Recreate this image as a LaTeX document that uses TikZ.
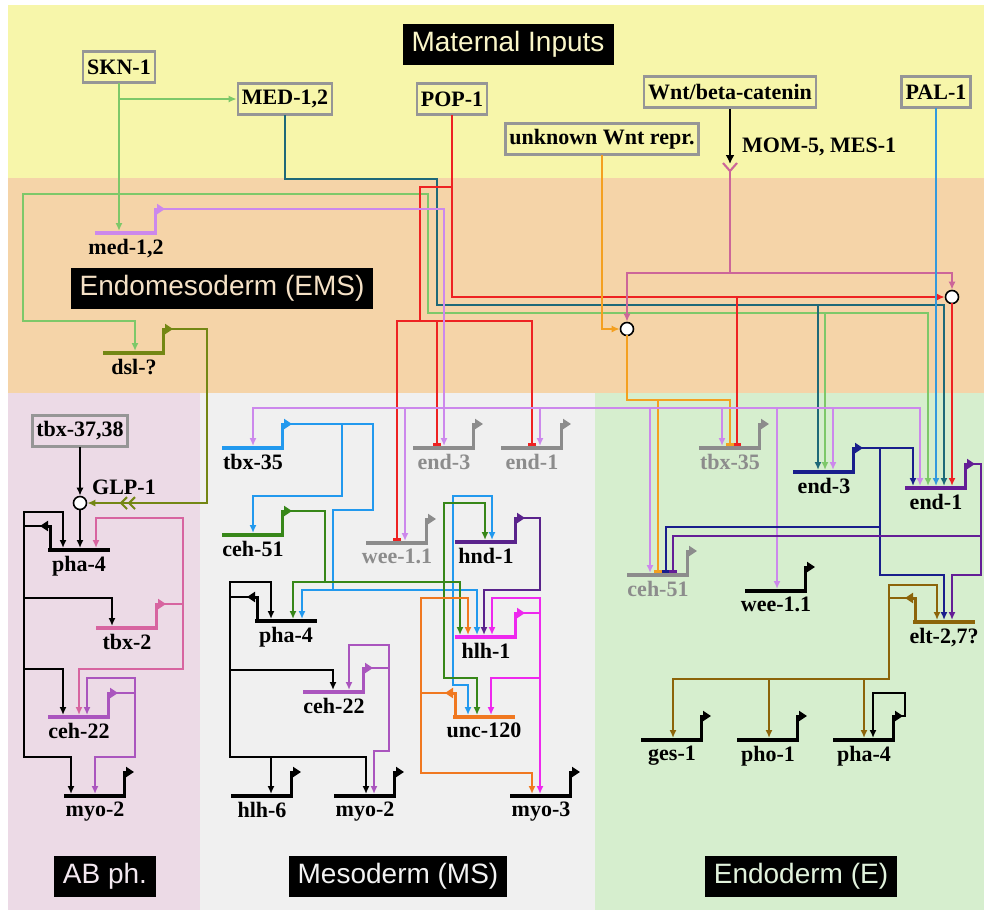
\documentclass[tikz,border=0pt]{standalone}
\usepackage{fontspec}
\setmainfont{Liberation Serif}
\newfontfamily\titlesans{Liberation Sans}
\usepackage{xcolor}
\usepackage{tikz}
\usetikzlibrary{arrows.meta,calc,shapes.geometric}

\definecolor{bgyel}{RGB}{247,246,170}
\definecolor{bgpeach}{RGB}{245,212,168}
\definecolor{bgab}{RGB}{236,218,230}
\definecolor{bgms}{RGB}{240,240,240}
\definecolor{bge}{RGB}{214,238,206}
\definecolor{boxgray}{RGB}{150,150,150}
\definecolor{sknc}{RGB}{125,200,105}
\definecolor{medc}{RGB}{30,105,120}
\definecolor{popc}{RGB}{238,34,34}
\definecolor{wntc}{RGB}{204,102,153}
\definecolor{unkc}{RGB}{244,160,32}
\definecolor{palc}{RGB}{51,153,221}
\definecolor{lilac}{RGB}{204,136,236}
\definecolor{olivec}{RGB}{115,135,20}
\definecolor{tbxtwo}{RGB}{215,100,160}
\definecolor{cehtt}{RGB}{170,85,190}
\definecolor{tbxblue}{RGB}{34,153,238}
\definecolor{cehgreen}{RGB}{55,135,25}
\definecolor{genegray}{RGB}{140,140,140}
\definecolor{hndc}{RGB}{90,35,140}
\definecolor{hlhc}{RGB}{238,40,238}
\definecolor{uncc}{RGB}{240,120,32}
\definecolor{navyc}{RGB}{25,30,140}
\definecolor{endonec}{RGB}{100,30,150}
\definecolor{eltc}{RGB}{140,100,10}
\definecolor{ttyel}{RGB}{250,246,200}
\definecolor{ttpeach}{RGB}{245,225,198}
\definecolor{ttab}{RGB}{243,232,240}
\definecolor{ttms}{RGB}{242,242,242}
\definecolor{tte}{RGB}{225,242,220}

\newcommand{\genefont}{\fontsize{22}{24}\selectfont\bfseries}
\newcommand{\titlefnt}{\titlesans\fontsize{28}{30}\selectfont}

% gene: bar, promoter arrow to the right, label below
\newcommand{\gene}[6][black]{%
  \coordinate (#2) at (#3,#4);
  \draw[genebar,#5] (#2) -- ++(62,0);
  \draw[prom,#5] ($(#2)+(60,0)$) -- ++(0,-24) -- ++(10,0) coordinate (#2-p);
  \node[glab,text=#1] (#2-l) at ($(#2)+(31,6)$) {#6};
}
% gene with promoter arrow to the left
\newcommand{\geneL}[6][black]{%
  \coordinate (#2) at (#3,#4);
  \draw[genebar,#5] (#2) -- ++(62,0);
  \draw[prom,#5] ($(#2)+(2,0)$) -- ++(0,-24) -- ++(-10,0) coordinate (#2-p);
  \node[glab,text=#1] (#2-l) at ($(#2)+(31,6)$) {#6};
}

\begin{document}
\begin{tikzpicture}[
  x=1pt,y=-1pt,
  reg/.style={line width=2.1pt,line cap=rect},
  act/.style={reg,-{Latex[length=8pt,width=7pt]},shorten >=2pt},
  rep/.style={reg,-{Bar[width=8pt]},shorten >=2.5pt},
  genebar/.style={line width=4.5pt},
  prom/.style={line width=3pt,-{Triangle[length=8pt,width=10pt]}},
  glab/.style={font=\genefont,inner sep=0pt,anchor=north},
  inbox/.style={draw=boxgray,line width=2.5pt,font=\genefont,inner xsep=4pt,inner ysep=3pt,minimum height=31pt},
  title/.style={fill=black,font=\titlefnt,inner xsep=9pt,minimum height=41pt},
  junc/.style={circle,draw=black,fill=white,line width=1.6pt,minimum size=13pt,inner sep=0pt}]
  \useasboundingbox (0,0) rectangle (984,914);
  % background bands
  \fill[white] (0,0) rectangle (984,914);
  \fill[bgyel] (8,5) rectangle (984,178);
  \fill[bgpeach] (8,178) rectangle (984,393);
  \fill[bgab] (8,393) rectangle (200,910);
  \fill[bgms] (200,393) rectangle (595,910);
  \fill[bge] (595,393) rectangle (984,910);

  % titles
  \node[title,text=ttyel] (ttmat) at (508,44) {Maternal Inputs};
  \node[title,text=ttpeach] (ttems) at (222,288) {Endomesoderm (EMS)};
  \node[title,text=ttab] (ttab) at (105,876) {AB ph.};
  \node[title,text=ttms] (ttms) at (398,876) {Mesoderm (MS)};
  \node[title,text=tte] (tte) at (801,876) {Endoderm (E)};

  % maternal inputs
  \node[inbox] (skn) at (119,67) {SKN-1};
  \node[inbox] (med) at (285,99) {MED-1,2};
  \node[inbox] (pop) at (452,99) {POP-1};
  \node[inbox] (wnt) at (730,92) {Wnt/beta-catenin};
  \node[inbox] (unk) at (602,139) {unknown Wnt repr.};
  \node[inbox] (pal) at (936,92) {PAL-1};
  \node[font=\genefont,anchor=west,inner sep=0pt] (mom) at (742,147) {MOM-5, MES-1};
  \node[inbox] (tbx3738) at (80,431) {tbx-37,38};
  \node[font=\genefont,anchor=west,inner sep=0pt] (glplab) at (92,487) {GLP-1};

  % junctions
  \node[junc] (and1) at (627,329) {};
  \node[junc] (and2) at (952,297) {};
  \node[junc] (glp) at (80,503) {};

  % genes
  \gene{med12}{95}{233}{lilac}{med-1,2}
  \gene{dsl}{103}{353}{olivec}{dsl-?}
  \geneL{pha4ab}{48}{550}{black}{pha-4}
  \gene{tbx2}{96}{628}{tbxtwo}{tbx-2}
  \gene{ceh22ab}{48}{717}{cehtt}{ceh-22}
  \gene{myo2ab}{64}{796}{black}{myo-2}
  \gene{tbx35ms}{222}{448}{tbxblue}{tbx-35}
  \gene{ceh51ms}{222}{535}{cehgreen}{ceh-51}
  \geneL{pha4ms}{255}{621}{black}{pha-4}
  \gene{ceh22ms}{303}{692}{cehtt}{ceh-22}
  \gene{hlh6}{231}{796}{black}{hlh-6}
  \gene{myo2ms}{334}{796}{black}{myo-2}
  \gene[genegray]{end3ms}{413}{448}{genegray}{end-3}
  \gene[genegray]{end1ms}{501}{448}{genegray}{end-1}
  \gene[genegray]{wee11ms}{366}{543}{genegray}{wee-1.1}
  \gene{hnd1}{455}{542}{hndc}{hnd-1}
  \gene{hlh1}{455}{637}{hlhc}{hlh-1}
  \geneL{unc120}{453}{717}{uncc}{unc-120}
  \gene{myo3}{510}{796}{black}{myo-3}
  \gene[genegray]{tbx35e}{699}{448}{genegray}{tbx-35}
  \gene[genegray]{ceh51e}{627}{575}{genegray}{ceh-51}
  \gene{end3e}{793}{472}{navyc}{end-3}
  \gene{end1e}{905}{488}{endonec}{end-1}
  \gene{wee11e}{745}{591}{black}{wee-1.1}
  \geneL{elt27}{913}{622}{eltc}{elt-2,7?}
  \gene{ges1}{641}{740}{black}{ges-1}
  \gene{pho1}{737}{740}{black}{pho-1}
  \gene{pha4e}{833}{740}{black}{pha-4}

  % SKN-1
  \draw[act,sknc] (skn.south) -- (skn.south |- med12);
  \draw[act,sknc,shorten >=0pt] (119,99) -- (med.west);
  \draw[act,sknc] (119,194) -| (23,321) -| (135,0 |- dsl);
  \draw[act,sknc] (119,194) -| (428,313) -| (928,0 |- end1e);
  \draw[act,sknc] (825,313) -- (825,0 |- end3e);
  % MED-1,2
  \draw[act,medc] (med.south) |- (437,179) |- (944,305) -- (944,0 |- end1e);
  \draw[act,medc] (818,305) -- (818,0 |- end3e);
  % POP-1
  \draw[act,popc,shorten >=0pt] (pop.south) |- (and2.west);
  \draw[reg,popc] (452,187) -| (420,321);
  \draw[rep,popc] (420,321) -| (397,0 |- wee11ms);
  \draw[rep,popc] (420,321) -| (532,0 |- end1ms);
  \draw[rep,popc] (437,321) -- (437,0 |- end3ms);
  \draw[rep,popc] (737,297) -- (737,0 |- tbx35e);
  \draw[act,popc] (and2.south) -- (and2.south |- end1e);
  % Wnt/beta-catenin
  \draw[line width=2.4pt,-{Latex[length=9pt,width=9pt]}] (wnt.south) -- (730,164);
  \coordinate (wntrec) at (730,171);
  \draw[reg,wntc,line cap=butt] (723,163) -- (wntrec) -- (737,163);
  \draw[act,wntc,shorten >=0pt] (wntrec) -- (730,273) -| (and1.north);
  \draw[act,wntc,shorten >=0pt] (730,273) -| (and2.north);
  % unknown Wnt repressor
  \draw[act,unkc,shorten >=0pt] (unk.south) |- (and1.west);
  \draw[rep,unkc] (and1.south) |- (730,400) -- (730,0 |- tbx35e);
  \draw[rep,unkc] (658,400) -- (658,0 |- ceh51e);
  % PAL-1
  \draw[act,palc] (pal.south) -- (pal.south |- end1e);

  % med-1,2
  \draw[act,lilac] (med12-p) -| (444,0 |- end3ms);
  \draw[act,lilac] (444,408) -| (253,0 |- tbx35ms);
  \draw[act,lilac] (444,408) -| (920,0 |- end1e);
  \draw[act,lilac] (405,408) -- (405,0 |- wee11ms);
  \draw[act,lilac] (540,408) -- (540,0 |- end1ms);
  \draw[act,lilac] (650,408) -- (650,0 |- ceh51e);
  \draw[act,lilac] (722,408) -- (722,0 |- tbx35e);
  \draw[act,lilac] (777,408) -- (777,0 |- wee11e);
  \draw[act,lilac] (833,408) -- (833,0 |- end3e);
  % dsl-?
  \draw[act,olivec,shorten >=0pt] (dsl-p) -| (207,503) -- (glp.east);
  \draw[reg,olivec,line cap=butt] (127,497) -- (121,503) -- (127,509);
  \draw[reg,olivec,line cap=butt] (135,497) -- (129,503) -- (135,509);

  % AB pharynx
  \draw[act,shorten >=0pt] (tbx3738.south) -- (glp.north);
  \draw[act] (glp.south) -- (glp.south |- pha4ab);
  \draw[reg] (pha4ab-p) -- (24,526);
  \draw[act] (24,512) -| (63,0 |- pha4ab);
  \draw[act] (24,512) |- (71,757) -- (71,0 |- myo2ab);
  \draw[act] (24,598) -| (112,0 |- tbx2);
  \draw[act] (24,669) -| (63,0 |- ceh22ab);
  \draw[reg,tbxtwo] (tbx2-p) -- (183,604);
  \draw[act,tbxtwo] (183,604) |- (96,518) -- (96,0 |- pha4ab);
  \draw[act,tbxtwo] (183,604) |- (79,669) -- (79,0 |- ceh22ab);
  \draw[reg,cehtt] (ceh22ab-p) -- (135,693);
  \draw[act,cehtt] (135,693) |- (87,678) -- (87,0 |- ceh22ab);
  \draw[act,cehtt] (135,693) |- (95,757) -- (95,0 |- myo2ab);

  % mesoderm
  \draw[reg,tbxblue] (tbx35ms-p) -- (373,424) |- (333,510) -- (333,590);
  \draw[act,tbxblue] (342,424) |- (253,496) -- (253,0 |- ceh51ms);
  \draw[act,tbxblue] (333,590) -| (302,0 |- pha4ms);
  \draw[act,tbxblue] (333,590) -| (477,0 |- hlh1);
  \draw[act,tbxblue] (453,590) |- (492,496) -- (492,0 |- hnd1);
  \draw[act,tbxblue] (453,590) |- (468,685) -- (468,0 |- unc120);
  \draw[reg,cehgreen] (ceh51ms-p) -| (325,582);
  \draw[act,cehgreen] (325,582) -| (293,0 |- pha4ms);
  \draw[act,cehgreen] (325,582) -| (460,0 |- hlh1);
  \draw[act,cehgreen] (444,582) |- (485,503) -- (485,0 |- hnd1);
  \draw[act,cehgreen] (444,582) |- (477,678) -- (477,0 |- unc120);
  \draw[reg] (pha4ms-p) -- (230,597);
  \draw[act] (230,582) -| (271,0 |- pha4ms);
  \draw[act] (230,582) |- (366,757) -- (366,0 |- myo2ms);
  \draw[act] (271,757) -- (271,0 |- hlh6);
  \draw[act] (230,670) -| (333,0 |- ceh22ms);
  \draw[reg,cehtt] (ceh22ms-p) -- (389,668);
  \draw[act,cehtt] (389,668) |- (349,645) -- (349,0 |- ceh22ms);
  \draw[act,cehtt] (389,668) |- (374,751) -- (374,0 |- myo2ms);
  \draw[act,hndc] (hnd1-p) -| (540,590) -| (484,0 |- hlh1);
  \draw[reg,hlhc] (hlh1-p) -- (540,613);
  \draw[act,hlhc] (540,613) |- (492,598) -- (492,0 |- hlh1);
  \draw[act,hlhc] (540,613) -- (540,0 |- myo3);
  \draw[act,hlhc] (540,678) -| (491,0 |- unc120);
  \draw[reg,uncc] (unc120-p) -- (421,693);
  \draw[act,uncc] (421,693) |- (468,598) -- (468,0 |- hlh1);
  \draw[act,uncc] (421,693) |- (532,773) -- (532,0 |- myo3);

  % endoderm
  \draw[act,navyc] (end3e-p) -| (913,0 |- end1e);
  \draw[act,navyc] (880,448) |- (944,575) -- (944,0 |- elt27);
  \draw[rep,navyc] (880,527) -| (666,0 |- ceh51e);
  \draw[act,endonec] (end1e-p) -| (981,575) -| (952,0 |- elt27);
  \draw[rep,endonec] (981,536) -| (673,0 |- ceh51e);
  \draw[reg,eltc] (elt27-p) -- (889,598);
  \draw[act,eltc] (889,598) |- (937,585) -- (937,0 |- elt27);
  \draw[act,eltc] (889,598) |- (673,679) -- (673,0 |- ges1);
  \draw[act,eltc] (769,679) -- (769,0 |- pho1);
  \draw[act,eltc] (864,679) -- (864,0 |- pha4e);
  \draw[act] (pha4e-p) -- (905,716) |- (873,693) -- (873,0 |- pha4e);
\end{tikzpicture}
\end{document}
